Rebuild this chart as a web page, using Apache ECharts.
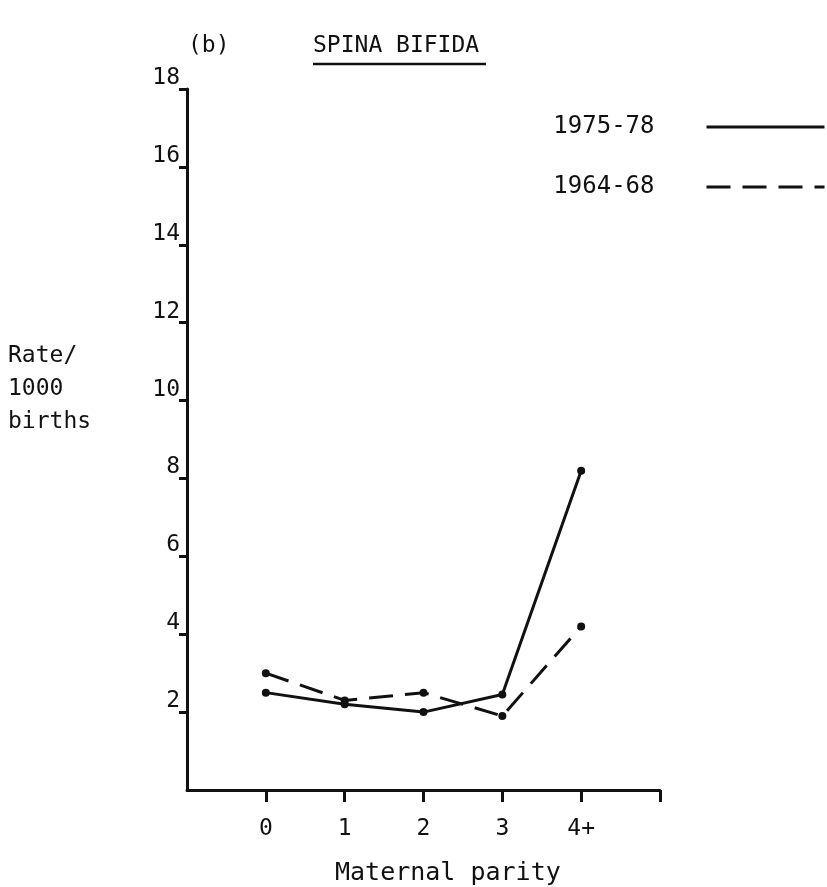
<!DOCTYPE html>
<html><head><meta charset="utf-8">
<script src="https://cdn.jsdelivr.net/npm/echarts@6/dist/echarts.min.js"></script>
<style>html,body{margin:0;padding:0;background:#fff}#c{width:827px;height:887px}</style>
</head><body><div id="c"></div>
<script>
const categories = ['0', '1', '2', '3', '4+'];
const rate1975 = [2.5, 2.2, 2.0, 2.45, 8.2];
const rate1964 = [3.0, 2.3, 2.5, 1.9, 4.2];
const yTicks = [2, 4, 6, 8, 10, 12, 14, 16, 18];
const seriesNames = ['1975-78', '1964-68'];

const FONT = 'DejaVu Sans Mono';
const INK = '#111';
const toPairs = arr => arr.map((v, i) => [i, v]);

const chart = echarts.init(document.getElementById('c'));
chart.setOption({
  backgroundColor: '#fff',
  animation: false,
  textStyle: { fontFamily: FONT, color: INK },
  grid: { left: 187, right: 167, top: 89, bottom: 97, containLabel: false },
  legend: {
    orient: 'vertical', right: -4, top: 110, align: 'right',
    itemWidth: 118, itemHeight: 16, itemGap: 36,
    textStyle: { fontFamily: FONT, fontSize: 24, color: INK, padding: [0, 47, 0, 0] },
    itemStyle: { opacity: 0 },
    lineStyle: { width: 3 },
    data: seriesNames
  },
  xAxis: {
    type: 'value', min: -1, max: 5, interval: 1,
    axisLine: { onZero: false, lineStyle: { color: INK, width: 3 } },
    axisTick: { show: true, length: 12, inside: false, customValues: [0, 1, 2, 3, 4, 5], lineStyle: { color: INK, width: 3 } },
    axisLabel: { customValues: [0, 1, 2, 3, 4], margin: 28, fontSize: 23, color: INK, fontFamily: FONT,
      formatter: v => categories[v] !== undefined ? categories[v] : '' },
    splitLine: { show: false }
  },
  yAxis: {
    type: 'value', min: 0, max: 18, interval: 2,
    axisLine: { show: true, onZero: false, lineStyle: { color: INK, width: 3 } },
    axisTick: { show: true, length: 8, customValues: yTicks, lineStyle: { color: INK, width: 3 } },
    axisLabel: { customValues: yTicks, margin: 7, fontSize: 23, color: INK, fontFamily: FONT,
      verticalAlign: 'bottom', lineHeight: 22 },
    splitLine: { show: false }
  },
  series: [
    { name: seriesNames[0], type: 'line', data: toPairs(rate1975),
      symbol: 'circle', symbolSize: 8, itemStyle: { color: INK },
      lineStyle: { color: INK, width: 3, type: 'solid' } },
    { name: seriesNames[1], type: 'line', data: toPairs(rate1964),
      symbol: 'circle', symbolSize: 8, itemStyle: { color: INK },
      lineStyle: { color: INK, width: 3, type: [24, 12] } }
  ],
  graphic: [
    { type: 'text', left: 188, top: 35, style: { text: '(b)', font: '23px ' + FONT, fill: INK } },
    { type: 'text', left: 313, top: 35, style: { text: 'SPINA BIFIDA', font: '23px ' + FONT, fill: INK } },
    { type: 'line', shape: { x1: 313, y1: 64, x2: 486, y2: 64 }, style: { stroke: INK, lineWidth: 2.5 } },
    { type: 'text', left: 8, top: 340, style: { text: 'Rate/\n1000\nbirths', font: '23px ' + FONT, fill: INK, lineHeight: 33 } },
    { type: 'text', left: 335, top: 861, style: { text: 'Maternal parity', font: '25px ' + FONT, fill: INK } }
  ]
});
</script></body></html>
